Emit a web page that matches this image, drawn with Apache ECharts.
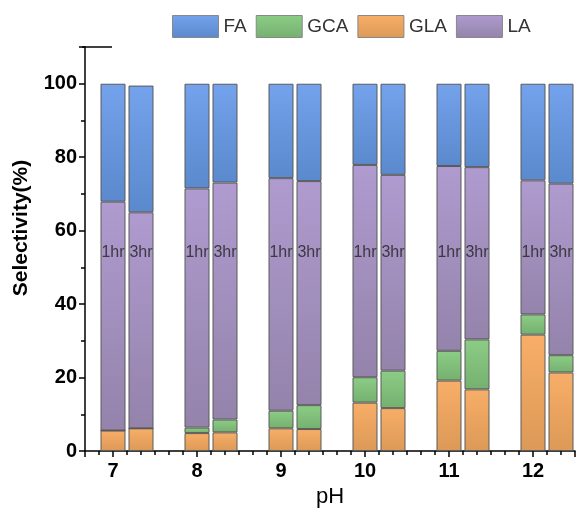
<!DOCTYPE html>
<html>
<head>
<meta charset="utf-8">
<script src="https://cdn.jsdelivr.net/npm/echarts@6/dist/echarts.min.js"></script>
<style>html,body{margin:0;padding:0;background:#fff;}#c{width:582px;height:513px;}</style>
</head>
<body>
<div id="c"></div>
<script>
// ---- data ----
const phValues = [7, 8, 9, 10, 11, 12];
const timeLabels = ['1hr', '3hr'];
const gla1hr = [5.6, 4.9, 6.2, 13.2, 19.2, 31.7];
const gla3hr = [6.2, 5.1, 6.0, 11.7, 16.8, 21.4];
const gca1hr = [0, 1.5, 4.8, 6.9, 8.1, 5.5];
const gca3hr = [0, 3.5, 6.5, 10.2, 13.6, 4.7];
const la1hr = [62.3, 65.1, 63.3, 57.8, 50.3, 36.5];
const la3hr = [58.8, 64.5, 61.0, 53.3, 46.9, 46.7];
const fa1hr = [32.1, 28.5, 25.7, 22.1, 22.4, 26.3];
const fa3hr = [34.5, 26.9, 26.5, 24.8, 22.7, 27.2];
const legendNames = ['FA', 'GCA', 'GLA', 'LA'];
const yTicks = [0, 20, 40, 60, 80, 100];

// ---- layout ----
const xMin = 6 + 2 / 3, xMax = 12.5, stepsPerUnit = 6; // fine slots of 1/6 pH
const offset3hrSlots = 2;
const labelY = 54;
const font = "'Liberation Sans', Arial, sans-serif";

const nSlots = Math.round((xMax - xMin) * stepsPerUnit) + 1;
const slotCats = Array.from({length: nSlots}, (_, k) => String(k));
function slotOf(p) { return Math.round((p - xMin) * stepsPerUnit); }

function slotData(a1, a3) {
  const out = new Array(nSlots).fill('-');
  phValues.forEach((p, i) => { out[slotOf(p)] = a1[i]; out[slotOf(p) + offset3hrSlots] = a3[i]; });
  return out;
}
function grad(top, bottom) {
  return new echarts.graphic.LinearGradient(0, 0, 0, 1, [{offset: 0, color: top}, {offset: 1, color: bottom}]);
}
function barSeries(name, a1, a3, c1, c2) {
  return {
    name, type: 'bar', stack: 'all', barWidth: 25, xAxisIndex: 1,
    data: slotData(a1, a3),
    itemStyle: {color: grad(c1, c2), borderColor: '#5a5a5a', borderWidth: 1},
    emphasis: {disabled: true}
  };
}
const labelData = new Array(nSlots).fill('-');
const labelText = {};
phValues.forEach(p => {
  labelData[slotOf(p)] = labelY; labelText[slotOf(p)] = timeLabels[0];
  labelData[slotOf(p) + offset3hrSlots] = labelY; labelText[slotOf(p) + offset3hrSlots] = timeLabels[1];
});

const chart = echarts.init(document.getElementById('c'), null, {renderer: 'canvas'});
chart.setOption({
  animation: false,
  backgroundColor: '#fff',
  legend: {
    data: legendNames,
    left: 167, top: 10,
    itemWidth: 46, itemHeight: 22, itemGap: 9,
    icon: 'rect',
    itemStyle: {borderColor: '#888', borderWidth: 1},
    textStyle: {fontFamily: font, fontSize: 19, color: '#333'}
  },
  grid: {left: 85, right: 7, top: 47, bottom: 60, containLabel: false},
  xAxis: [{
    type: 'value', min: xMin, max: xMax, splitNumber: 5,
    name: 'pH', nameLocation: 'middle', nameGap: 34,
    nameTextStyle: {fontFamily: font, fontSize: 22, color: '#000'},
    axisLine: {show: true, onZero: false, lineStyle: {color: '#000', width: 1.5}},
    axisTick: {show: true, length: 6, lineStyle: {color: '#000', width: 1.5}},
    minorTick: {show: true, splitNumber: 6, length: 4, lineStyle: {color: '#000', width: 1.5}},
    axisLabel: {showMinLabel: false, showMaxLabel: false, fontFamily: font, fontSize: 20, fontWeight: 'bold', color: '#000', margin: 10},
    splitLine: {show: false}
  }, {
    type: 'category', data: slotCats, boundaryGap: false, position: 'bottom', show: false
  }],
  yAxis: {
    type: 'value', min: 0, max: 110, interval: 20,
    axisLine: {show: true, lineStyle: {color: '#000', width: 1.5}},
    axisTick: {show: true, length: 6, lineStyle: {color: '#000', width: 1.5}},
    minorTick: {show: true, splitNumber: 2, length: 4, lineStyle: {color: '#000', width: 1.5}},
    axisLabel: {showMaxLabel: false, fontFamily: font, fontSize: 20, fontWeight: 'bold', color: '#000', margin: 8,
      formatter: v => yTicks.includes(v) ? String(v) : ''},
    splitLine: {show: false}
  },
  graphic: [
    {type: 'text', x: 21, y: 228, rotation: Math.PI / 2,
     style: {text: 'Selectivity(%)', fontFamily: font, fontSize: 21, fontWeight: 'bold', fill: '#000', align: 'center', verticalAlign: 'middle'}},
    {type: 'line', shape: {x1: 82, y1: 47, x2: 112, y2: 47}, style: {stroke: '#000', lineWidth: 1.5}}
  ],
  series: [
    barSeries('GLA', gla1hr, gla3hr, '#f8ae68', '#dc9957'),
    barSeries('GCA', gca1hr, gca3hr, '#8ccd86', '#75b06f'),
    barSeries('LA', la1hr, la3hr, '#af9bcf', '#9483ab'),
    barSeries('FA', fa1hr, fa3hr, '#74a2ec', '#5b89cd'),
    {
      name: 'labels', type: 'scatter', xAxisIndex: 1, symbolSize: 0, data: labelData, silent: true, z: 10,
      label: {show: true, position: 'inside', fontFamily: font, fontSize: 16, color: '#222',
        formatter: p => labelText[p.dataIndex]}
    }
  ]
});
</script>
</body>
</html>
